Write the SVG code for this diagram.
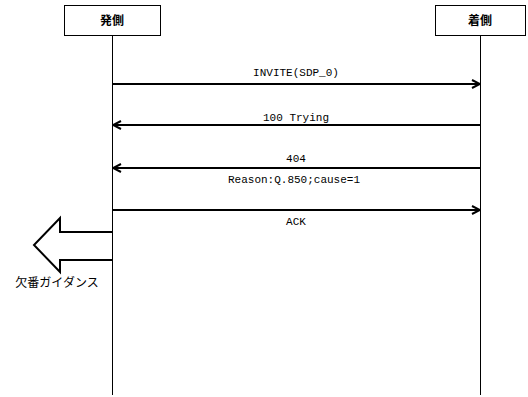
<svg xmlns="http://www.w3.org/2000/svg" width="528" height="397" viewBox="0 0 528 397">
<style>
.box{fill:#fff;stroke:#000;stroke-width:1}
.life{stroke:#000;stroke-width:1}
.msg{stroke:#000;stroke-width:2;fill:none}
.t{font-family:"Liberation Mono","Noto Sans CJK JP",monospace;font-size:11px;fill:#000;text-anchor:middle}
.h{font-family:"Noto Sans CJK JP",sans-serif;font-size:12px;font-weight:bold;fill:#000;text-anchor:middle}
</style>
<defs>
<marker id="ah" markerWidth="10" markerHeight="10" refX="9" refY="5" orient="auto" markerUnits="userSpaceOnUse">
<path d="M1,1 L9,5 L1,9" fill="none" stroke="#000" stroke-width="2"/>
</marker>
</defs>
<rect width="528" height="397" fill="#fff"/>
<g id="caller">
<rect class="box" x="64.5" y="5.5" width="96" height="30"/>
<text class="h" x="112" y="25">発側</text>
<line class="life" x1="112.5" y1="35" x2="112.5" y2="395"/>
</g>
<g id="callee">
<rect class="box" x="435.5" y="5.5" width="90" height="30"/>
<text class="h" x="480" y="25">着側</text>
<line class="life" x1="480.5" y1="35" x2="480.5" y2="395"/>
</g>
<g id="connectors">
<line class="msg" x1="112" y1="84" x2="480" y2="84" marker-end="url(#ah)"/>
<line class="msg" x1="480" y1="125" x2="113" y2="125" marker-end="url(#ah)"/>
<line class="msg" x1="480" y1="168" x2="113" y2="168" marker-end="url(#ah)"/>
<line class="msg" x1="112" y1="210" x2="480" y2="210" marker-end="url(#ah)"/>
</g>
<g id="labels">
<text class="t" x="296" y="76">INVITE(SDP_0)</text>
<text class="t" x="296" y="121">100 Trying</text>
<text class="t" x="296" y="162">404</text>
<text class="t" x="294" y="183">Reason:Q.850;cause=1</text>
<text class="t" x="296" y="225">ACK</text>
</g>
<g id="guidance">
<path d="M112,232 L60,232 L60,218 L34,245 L60,272 L60,260 L112,260" fill="#fff" stroke="#000" stroke-width="2"/>
<text x="57" y="287" font-family="Noto Sans CJK JP,sans-serif" font-size="12" text-anchor="middle">欠番ガイダンス</text>
</g>
</svg>
